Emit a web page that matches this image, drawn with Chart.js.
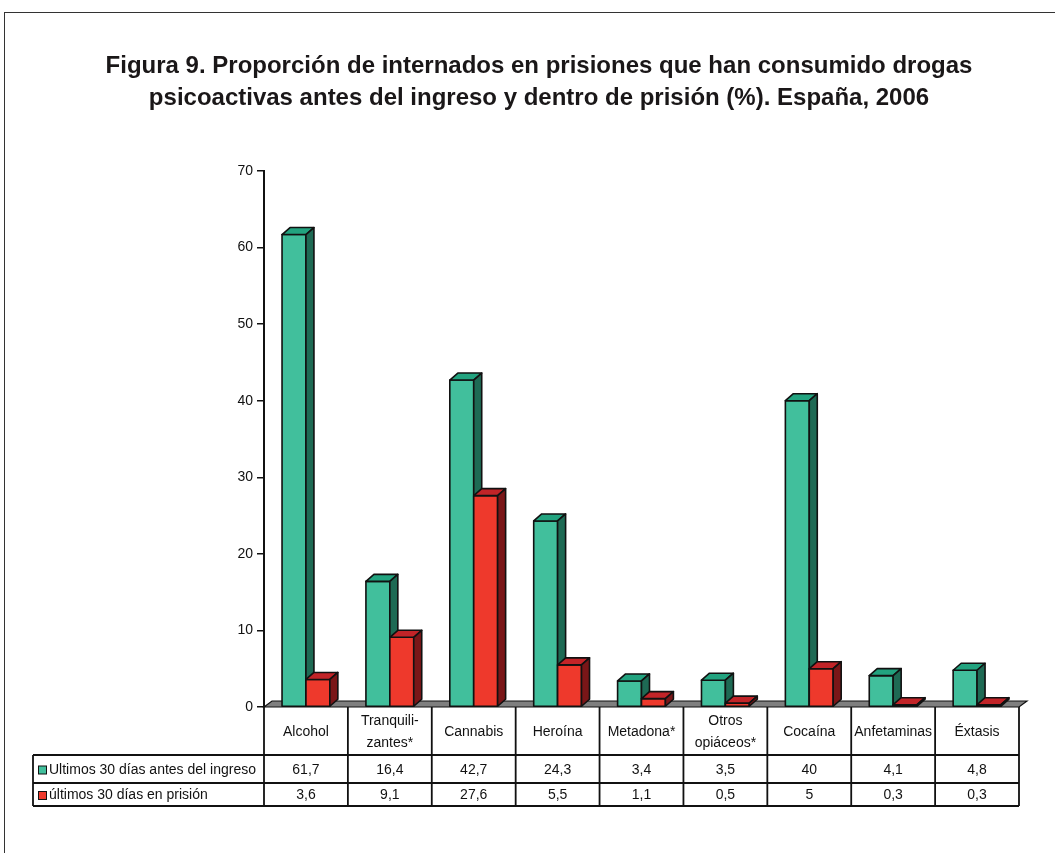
<!DOCTYPE html>
<html lang="es">
<head>
<meta charset="utf-8">
<title>Figura 9</title>
<script src="https://cdn.jsdelivr.net/npm/chart.js@4.4.1/dist/chart.umd.min.js"></script>
<style>
  body { margin: 0; background: #fff; }
  canvas { display: block; }
</style>
</head>
<body>
<canvas id="grafico" width="1055" height="853"></canvas>
<script>
// Datos
const categorias = [['Alcohol'], ['Tranquili-', 'zantes*'], ['Cannabis'], ['Heroína'], ['Metadona*'], ['Otros', 'opiáceos*'], ['Cocaína'], ['Anfetaminas'], ['Éxtasis']];
const antesIngreso = [61.7, 16.4, 42.7, 24.3, 3.4, 3.5, 40, 4.1, 4.8];
const enPrision = [3.6, 9.1, 27.6, 5.5, 1.1, 0.5, 5, 0.3, 0.3];
const nombresSeries = ['Ultimos 30 días antes del ingreso', 'últimos 30 días en prisión'];
const ejeYMax = 70;
const ejeYPaso = 10;
const titulo = ['Figura 9. Proporción de internados en prisiones que han consumido drogas',
                'psicoactivas antes del ingreso y dentro de prisión (%). España, 2006'];

// Colores de las caras (frente, arriba, lado)
const coloresVerde = ['#41bf9c', '#22a37f', '#1e6a54'];
const coloresRojo = ['#ee392c', '#c22428', '#7a1618'];
const fuente = '"Liberation Sans", Arial, sans-serif';
const prof = { dx: 8, dy: 7 };

function formatoNumero(v) {
    return String(v).replace('.', ',');
}

// Plugin que dibuja el suelo, las barras en 3D, la tabla y el título
const barras3d = {
    id: 'barras3d',
    beforeDatasetsDraw(chart) {
        const { ctx, chartArea } = chart;
        const base = chart.scales.y.getPixelForValue(0);
        ctx.save();
        ctx.beginPath();
        ctx.moveTo(chartArea.left, base);
        ctx.lineTo(chartArea.left + prof.dx, base - 6);
        ctx.lineTo(chartArea.right + prof.dx, base - 6);
        ctx.lineTo(chartArea.right, base);
        ctx.closePath();
        ctx.fillStyle = '#7f7f7f';
        ctx.fill();
        ctx.strokeStyle = '#111';
        ctx.lineWidth = 1.2;
        ctx.stroke();
        ctx.restore();
    },
    afterDatasetsDraw(chart) {
        const { ctx } = chart;
        const metas = [chart.getDatasetMeta(0), chart.getDatasetMeta(1)];
        const colores = [coloresVerde, coloresRojo];
        ctx.save();
        ctx.strokeStyle = '#111';
        ctx.lineWidth = 1.6;
        ctx.lineJoin = 'round';
        for (let i = 0; i < categorias.length; i++) {
            metas.forEach((meta, d) => {
                const el = meta.data[i];
                const w = el.width;
                const izq = el.x - w / 2;
                const der = el.x + w / 2;
                const arriba = el.y;
                const abajo = el.base;
                const c = colores[d];
                // frente
                ctx.fillStyle = c[0];
                ctx.fillRect(izq, arriba, w, abajo - arriba);
                ctx.strokeRect(izq, arriba, w, abajo - arriba);
                // cara superior
                ctx.beginPath();
                ctx.moveTo(izq, arriba);
                ctx.lineTo(izq + prof.dx, arriba - prof.dy);
                ctx.lineTo(der + prof.dx, arriba - prof.dy);
                ctx.lineTo(der, arriba);
                ctx.closePath();
                ctx.fillStyle = c[1];
                ctx.fill();
                ctx.stroke();
                // cara lateral
                ctx.beginPath();
                ctx.moveTo(der, arriba);
                ctx.lineTo(der + prof.dx, arriba - prof.dy);
                ctx.lineTo(der + prof.dx, abajo - prof.dy);
                ctx.lineTo(der, abajo);
                ctx.closePath();
                ctx.fillStyle = c[2];
                ctx.fill();
                ctx.stroke();
            });
        }
        ctx.restore();
    },
    afterDraw(chart) {
        const { ctx, chartArea } = chart;
        const n = categorias.length;
        const anchoCol = chartArea.width / n;
        const yTop = chart.scales.y.getPixelForValue(0);
        const filas = [yTop, 755, 783, 806];
        const izqLeyenda = 33;

        ctx.save();
        // Marco exterior
        ctx.strokeStyle = '#333';
        ctx.lineWidth = 1;
        ctx.strokeRect(4.5, 12.5, 1200, 1000);

        // Título
        ctx.fillStyle = '#1a1718';
        ctx.font = 'bold 24px ' + fuente;
        ctx.textAlign = 'center';
        ctx.textBaseline = 'middle';
        ctx.fillText(titulo[0], 539, 66);
        ctx.fillText(titulo[1], 539, 98);

        // Líneas de la tabla
        ctx.strokeStyle = '#111';
        ctx.lineWidth = 1.8;
        ctx.beginPath();
        for (let i = 0; i <= n; i++) {
            const x = chartArea.left + i * anchoCol;
            ctx.moveTo(x, yTop);
            ctx.lineTo(x, filas[3]);
        }
        for (let f = 1; f < filas.length; f++) {
            ctx.moveTo(izqLeyenda, filas[f]);
            ctx.lineTo(chartArea.right, filas[f]);
        }
        ctx.moveTo(izqLeyenda, filas[1]);
        ctx.lineTo(izqLeyenda, filas[3]);
        ctx.stroke();

        // Textos de la tabla
        ctx.fillStyle = '#111';
        ctx.font = '14px ' + fuente;
        ctx.textAlign = 'center';
        const series = [antesIngreso, enPrision];
        for (let i = 0; i < n; i++) {
            const xc = chartArea.left + (i + 0.5) * anchoCol;
            const lineas = categorias[i];
            const yc = (filas[0] + filas[1]) / 2;
            lineas.forEach((t, k) => {
                ctx.fillText(t, xc, yc + 1 + (k - (lineas.length - 1) / 2) * 22);
            });
            series.forEach((s, d) => {
                ctx.fillText(formatoNumero(s[i]), xc, (filas[d + 1] + filas[d + 2]) / 2 + 1);
            });
        }

        // Leyenda dentro de la tabla
        ctx.textAlign = 'left';
        const colLeyenda = [coloresVerde[0], coloresRojo[0]];
        nombresSeries.forEach((nombre, d) => {
            const yc = (filas[d + 1] + filas[d + 2]) / 2 + 1;
            ctx.fillStyle = colLeyenda[d];
            ctx.fillRect(38, yc - 4, 8, 8);
            ctx.lineWidth = 1;
            ctx.strokeRect(38.5, yc - 4, 8, 8);
            ctx.fillStyle = '#111';
            ctx.fillText(nombre, 49, yc);
        });
        ctx.restore();
    }
};

const ctx = document.getElementById('grafico').getContext('2d');
new Chart(ctx, {
    type: 'bar',
    data: {
        labels: categorias,
        datasets: [{
            label: nombresSeries[0],
            data: antesIngreso,
            backgroundColor: 'rgba(0,0,0,0)',
            borderWidth: 0
        }, {
            label: nombresSeries[1],
            data: enPrision,
            backgroundColor: 'rgba(0,0,0,0)',
            borderWidth: 0
        }]
    },
    options: {
        responsive: false,
        animation: false,
        events: [],
        layout: {
            padding: { left: 200, right: 36, top: 171, bottom: 146 }
        },
        datasets: {
            bar: { categoryPercentage: 0.57, barPercentage: 1 }
        },
        plugins: {
            legend: { display: false },
            tooltip: { enabled: false },
            title: { display: false }
        },
        scales: {
            x: { display: false },
            y: {
                min: 0,
                max: ejeYMax,
                afterFit: (escala) => { escala.width = 64; },
                ticks: {
                    stepSize: ejeYPaso,
                    color: '#111',
                    padding: 4,
                    font: { family: fuente, size: 14 }
                },
                grid: {
                    drawOnChartArea: false,
                    tickLength: 7,
                    color: '#111',
                    lineWidth: 1.5
                },
                border: { color: '#111', width: 2 }
            }
        }
    },
    plugins: [barras3d]
});
</script>
</body>
</html>
